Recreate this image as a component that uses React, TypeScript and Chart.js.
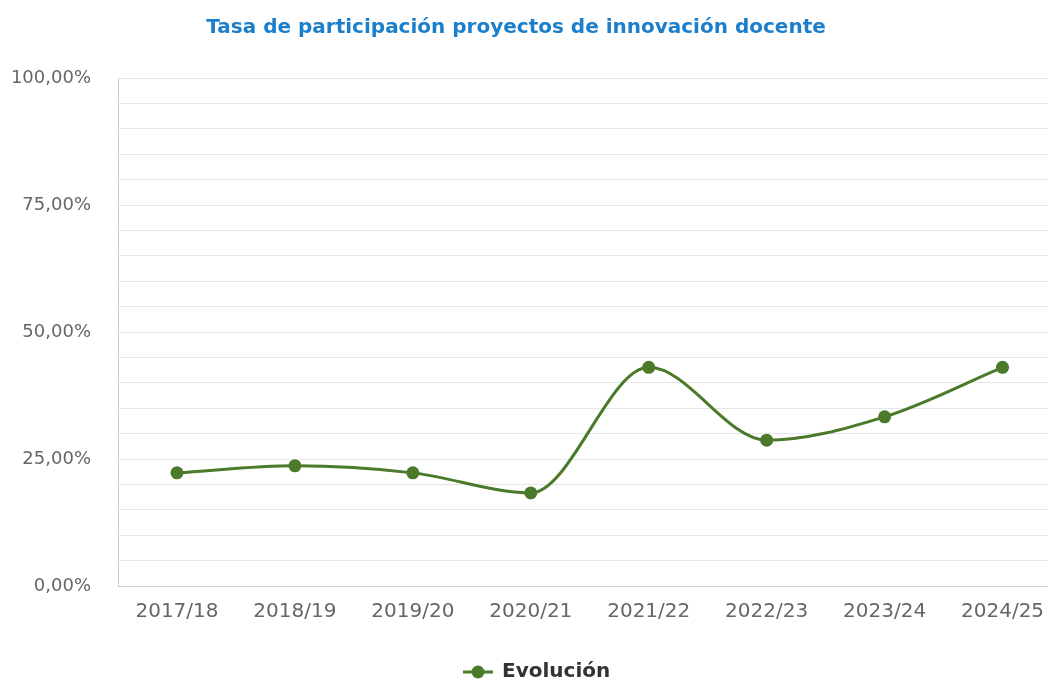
import React, { useEffect, useRef } from "react";
import { Chart, registerables } from "chart.js";

Chart.register(...registerables);

const TITLE = "Tasa de participación proyectos de innovación docente";
const SERIES_NAME = "Evolución";
const categories = ["2017/18", "2018/19", "2019/20", "2020/21", "2021/22", "2022/23", "2023/24", "2024/25"];
const values = [22.27, 23.65, 22.27, 18.33, 43.04, 28.7, 33.3, 43.04];
const majorTicks = [0, 25, 50, 75, 100];

const LINE_COLOR = "#4A7A2A";
const FONT = "'DejaVu Sans', Verdana, sans-serif";

const fmt = (v: number) => v.toFixed(2).replace(".", ",") + "%";

const titlePlugin = {
  id: "customTitle",
  afterDraw(chart: any) {
    const ctx = chart.ctx;
    ctx.save();
    ctx.font = `bold 20px ${FONT}`;
    ctx.fillStyle = "#1B7FCC";
    ctx.textAlign = "center";
    ctx.textBaseline = "middle";
    ctx.fillText(TITLE, 516, 28);
    ctx.restore();
  },
};

const legendPlugin = {
  id: "customLegend",
  afterDraw(chart: any) {
    const ctx = chart.ctx;
    const y = 672;
    ctx.save();
    ctx.strokeStyle = LINE_COLOR;
    ctx.lineWidth = 3;
    ctx.beginPath();
    ctx.moveTo(463, y);
    ctx.lineTo(493, y);
    ctx.stroke();
    ctx.fillStyle = LINE_COLOR;
    ctx.beginPath();
    ctx.arc(478, y, 6.5, 0, Math.PI * 2);
    ctx.fill();
    ctx.font = `bold 20px ${FONT}`;
    ctx.fillStyle = "#333333";
    ctx.textAlign = "left";
    ctx.textBaseline = "middle";
    ctx.fillText(SERIES_NAME, 502, y);
    ctx.restore();
  },
};

export default function App() {
  const ref = useRef<HTMLCanvasElement>(null);
  useEffect(() => {
    if (!ref.current) return;
    const chart = new Chart(ref.current, {
      type: "line",
      data: {
        labels: categories,
        datasets: [
          {
            label: SERIES_NAME,
            data: values,
            borderColor: LINE_COLOR,
            backgroundColor: LINE_COLOR,
            borderWidth: 3,
            pointRadius: 6.5,
            pointBorderWidth: 0,
            pointBackgroundColor: LINE_COLOR,
            cubicInterpolationMode: "monotone",
            fill: false,
          },
        ],
      },
      options: {
        animation: false,
        responsive: false,
        layout: { padding: { top: 78, bottom: 42, left: 0, right: 0 } },
        plugins: {
          legend: { display: false },
          title: { display: false },
          tooltip: { enabled: false },
        },
        scales: {
          x: {
            offset: true,
            grid: { display: false, drawTicks: false },
            border: { display: true, color: "#CCCCCC", width: 1 },
            ticks: {
              color: "#666666",
              font: { family: FONT, size: 20 },
              padding: 14,
              maxRotation: 0,
              autoSkip: false,
            },
          },
          y: {
            min: 0,
            max: 100,
            afterFit: (scale: any) => {
              scale.width = 118;
            },
            grid: { color: "#E6E6E6", lineWidth: 1, drawTicks: false },
            border: { display: true, color: "#CCCCCC", width: 1 },
            ticks: {
              stepSize: 5,
              autoSkip: false,
              color: "#666666",
              font: { family: FONT, size: 18 },
              padding: 27,
              callback: (v: any) => (majorTicks.includes(Number(v)) ? fmt(Number(v)) : ""),
            },
          },
        },
      },
      plugins: [titlePlugin, legendPlugin],
    });
    return () => chart.destroy();
  }, []);
  return (
    <div style={{ position: "fixed", left: 0, top: 0, width: 1048, height: 680, overflow: "hidden", background: "#fff" }}>
      <canvas ref={ref} width={1068} height={680} style={{ display: "block" }} />
    </div>
  );
}
